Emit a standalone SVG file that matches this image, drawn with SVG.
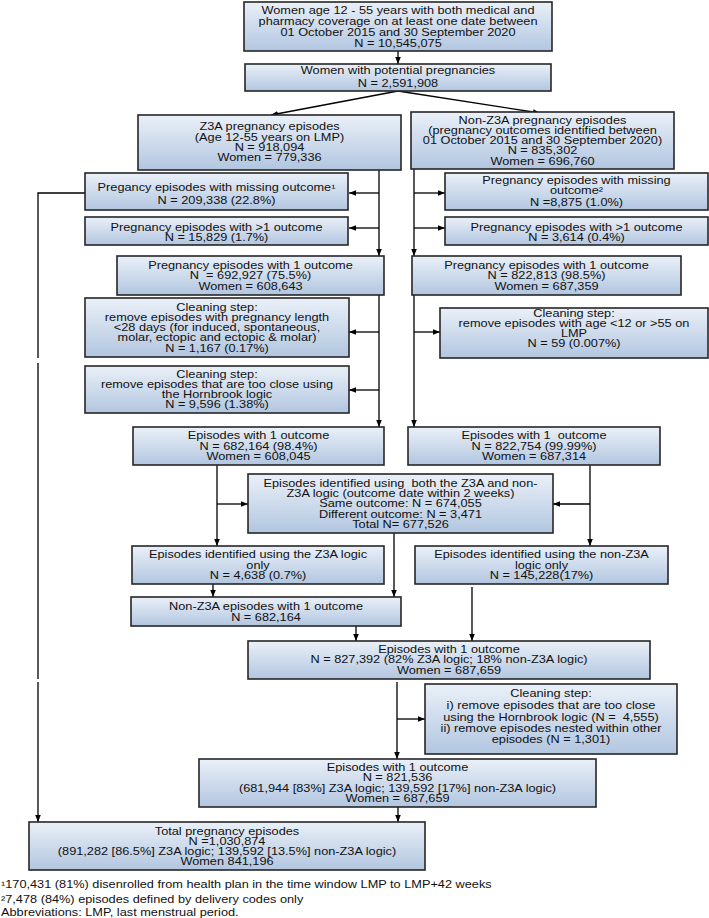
<svg xmlns="http://www.w3.org/2000/svg" width="709" height="918" viewBox="0 0 709 918">
<defs>
<linearGradient id="gb" x1="0" y1="0" x2="0" y2="1">
<stop offset="0" stop-color="#eaf0f8"/>
<stop offset="1" stop-color="#b2c6e0"/>
</linearGradient>
<marker id="ah" viewBox="0 0 10 10" refX="10" refY="5" markerWidth="7" markerHeight="7" markerUnits="userSpaceOnUse" orient="auto">
<path d="M0,1 L10,5 L0,9 Z" fill="#000"/>
</marker>
<style>
.box{fill:url(#gb);stroke:#262626;stroke-width:1.6}
text{font-family:"Liberation Sans",Arial,sans-serif;font-size:10.2px;fill:#111}
.c text{text-anchor:middle}
.ln{fill:none;stroke:#000;stroke-width:1.3}
.ar{fill:none;stroke:#000;stroke-width:1.3;marker-end:url(#ah)}
</style>
</defs>
<rect width="709" height="918" fill="#fff"/>

<g id="connectors">
<line class="ar" x1="398" y1="51" x2="398" y2="64"/>
<line class="ar" x1="398" y1="91" x2="271" y2="115"/>
<line class="ar" x1="398" y1="91" x2="540" y2="113"/>
<line class="ar" x1="379" y1="170" x2="379" y2="256"/>
<line class="ar" x1="414" y1="169" x2="414" y2="256"/>
<line class="ar" x1="379" y1="193" x2="349" y2="193"/>
<line class="ar" x1="379" y1="228" x2="349" y2="228"/>
<line class="ar" x1="414" y1="193" x2="445" y2="193"/>
<line class="ar" x1="414" y1="228" x2="445" y2="228"/>
<path class="ln" d="M85,193 H38 V358 M38,363 V679"/>
<line class="ar" x1="38" y1="682" x2="38" y2="822"/>
<line class="ar" x1="379" y1="295" x2="379" y2="427"/>
<line class="ar" x1="414" y1="295" x2="414" y2="427"/>
<line class="ar" x1="379" y1="332" x2="349" y2="332"/>
<line class="ar" x1="379" y1="390" x2="349" y2="390"/>
<line class="ar" x1="414" y1="332" x2="440" y2="332"/>
<line class="ar" x1="217" y1="465" x2="217" y2="546"/>
<line class="ar" x1="217" y1="504" x2="248" y2="504"/>
<line class="ar" x1="590" y1="465" x2="590" y2="546"/>
<line class="ar" x1="590" y1="504" x2="553" y2="504"/>
<line class="ar" x1="394" y1="533" x2="394" y2="597"/>
<line class="ar" x1="213" y1="584" x2="213" y2="597"/>
<line class="ar" x1="472" y1="587" x2="472" y2="641"/>
<line class="ar" x1="356" y1="626" x2="356" y2="641"/>
<line class="ar" x1="397" y1="682" x2="397" y2="759"/>
<line class="ar" x1="397" y1="719" x2="425" y2="719"/>
<line class="ar" x1="398" y1="807" x2="398" y2="822"/>
</g>

<g id="n_women" class="c">
<rect class="box" x="244" y="2" width="308" height="49"/>
<g transform="translate(398,0) scale(1.25,1)">
<text y="13.6">Women age 12 - 55 years with both medical and</text>
<text y="25.1">pharmacy coverage on at least one date between</text>
<text y="36.1">01 October 2015 and 30 September 2020</text>
<text y="47.1">N = 10,545,075</text>
</g>
</g>

<g id="n_potential" class="c">
<rect class="box" x="245" y="64" width="306" height="27"/>
<g transform="translate(398,0) scale(1.25,1)">
<text y="73.6">Women with potential pregnancies</text>
<text y="86.6">N = 2,591,908</text>
</g>
</g>

<g id="n_z3a" class="c">
<rect class="box" x="138" y="115" width="263" height="55"/>
<g transform="translate(269.5,0) scale(1.25,1)">
<text y="129.6">Z3A pregnancy episodes</text>
<text y="140.6">(Age 12-55 years on LMP)</text>
<text y="150.6">N = 918,094</text>
<text y="160.6">Women = 779,336</text>
</g>
</g>

<g id="n_nonz3a" class="c">
<rect class="box" x="411" y="112" width="263" height="57"/>
<g transform="translate(542.5,0) scale(1.25,1)">
<text y="124.1">Non-Z3A pregnancy episodes</text>
<text y="134.3">(pregnancy outcomes identified between</text>
<text y="144.3">01 October 2015 and 30 September 2020)</text>
<text y="154.3">N = 835,302</text>
<text y="164.6">Women = 696,760</text>
</g>
</g>

<g id="n_missing1" class="c">
<rect class="box" x="85" y="173" width="263" height="37"/>
<g transform="translate(216.5,0) scale(1.25,1)">
<text y="190.6">Pregancy episodes with missing outcome¹</text>
<text y="203.6">N = 209,338 (22.8%)</text>
</g>
</g>

<g id="n_multi1" class="c">
<rect class="box" x="85" y="217" width="263" height="28"/>
<g transform="translate(216.5,0) scale(1.25,1)">
<text y="230.6">Pregnancy episodes with &gt;1 outcome</text>
<text y="241.1">N = 15,829 (1.7%)</text>
</g>
</g>

<g id="n_missing2" class="c">
<rect class="box" x="445" y="173" width="263" height="37"/>
<g transform="translate(576.5,0) scale(1.25,1)">
<text y="183.6">Pregnancy episodes with missing</text>
<text y="193.6">outcome²</text>
<text y="205.6">N =8,875 (1.0%)</text>
</g>
</g>

<g id="n_multi2" class="c">
<rect class="box" x="445" y="217" width="263" height="28"/>
<g transform="translate(576.5,0) scale(1.25,1)">
<text y="230.6">Pregnancy episodes with &gt;1 outcome</text>
<text y="241.1">N = 3,614 (0.4%)</text>
</g>
</g>

<g id="n_one1" class="c">
<rect class="box" x="117" y="256" width="267" height="39"/>
<g transform="translate(250.5,0) scale(1.25,1)">
<text y="268.6">Pregnancy episodes with 1 outcome</text>
<text y="279.1" xml:space="preserve">N  = 692,927 (75.5%)</text>
<text y="289.6">Women = 608,643</text>
</g>
</g>

<g id="n_one2" class="c">
<rect class="box" x="412" y="256" width="269" height="39"/>
<g transform="translate(546.5,0) scale(1.25,1)">
<text y="268.6">Pregnancy episodes with 1 outcome</text>
<text y="279.1">N = 822,813 (98.5%)</text>
<text y="289.6">Women = 687,359</text>
</g>
</g>

<g id="n_clean1" class="c">
<rect class="box" x="85" y="298" width="264" height="59"/>
<g transform="translate(217,0) scale(1.25,1)">
<text y="310.6">Cleaning step:</text>
<text y="320.6">remove episodes with pregnancy length</text>
<text y="330.6">&lt;28 days (for induced, spontaneous,</text>
<text y="340.6">molar, ectopic and ectopic &amp; molar)</text>
<text y="351.6">N = 1,167 (0.17%)</text>
</g>
</g>

<g id="n_clean2" class="c">
<rect class="box" x="440" y="308" width="268" height="50"/>
<g transform="translate(574,0) scale(1.25,1)">
<text y="316.6">Cleaning step:</text>
<text y="326.6">remove episodes with age &lt;12 or &gt;55 on</text>
<text y="336.6">LMP</text>
<text y="346.6">N = 59 (0.007%)</text>
</g>
</g>

<g id="n_hornbrook" class="c">
<rect class="box" x="85" y="366" width="264" height="47"/>
<g transform="translate(217,0) scale(1.25,1)">
<text y="377.6">Cleaning step:</text>
<text y="387.6">remove episodes that are too close using</text>
<text y="397.6">the Hornbrook logic</text>
<text y="407.6">N = 9,596 (1.38%)</text>
</g>
</g>

<g id="n_ep1" class="c">
<rect class="box" x="133" y="427" width="251" height="38"/>
<g transform="translate(258.5,0) scale(1.25,1)">
<text y="438.6">Episodes with 1 outcome</text>
<text y="449.6">N = 682,164 (98.4%)</text>
<text y="459.6">Women = 608,045</text>
</g>
</g>

<g id="n_ep2" class="c">
<rect class="box" x="408" y="427" width="252" height="38"/>
<g transform="translate(534,0) scale(1.25,1)">
<text y="438.6" xml:space="preserve">Episodes with 1  outcome</text>
<text y="449.6">N = 822,754 (99.99%)</text>
<text y="459.6">Women = 687,314</text>
</g>
</g>

<g id="n_both" class="c">
<rect class="box" x="248" y="474" width="305" height="59"/>
<g transform="translate(400.5,0) scale(1.25,1)">
<text y="486.6" xml:space="preserve">Episodes identified using  both the Z3A and non-</text>
<text y="496.6">Z3A logic (outcome date within 2 weeks)</text>
<text y="506.6">Same outcome: N = 674,055</text>
<text y="517.6">Different outcome: N = 3,471</text>
<text y="527.6">Total N= 677,526</text>
</g>
</g>

<g id="n_z3aonly" class="c">
<rect class="box" x="132" y="546" width="252" height="38"/>
<g transform="translate(258,0) scale(1.25,1)">
<text y="557.6">Episodes identified using the Z3A logic</text>
<text y="568.6">only</text>
<text y="578.6">N = 4,638 (0.7%)</text>
</g>
</g>

<g id="n_nonz3aonly" class="c">
<rect class="box" x="415" y="546" width="253" height="38"/>
<g transform="translate(541.5,0) scale(1.25,1)">
<text y="557.6">Episodes identified using the non-Z3A</text>
<text y="568.6">logic only</text>
<text y="578.6">N = 145,228(17%)</text>
</g>
</g>

<g id="n_nonz3aep" class="c">
<rect class="box" x="131" y="597" width="270" height="29"/>
<g transform="translate(266,0) scale(1.25,1)">
<text y="609.6">Non-Z3A episodes with 1 outcome</text>
<text y="620.6">N = 682,164</text>
</g>
</g>

<g id="n_merged" class="c">
<rect class="box" x="248" y="641" width="402" height="38"/>
<g transform="translate(449,0) scale(1.25,1)">
<text y="652.6">Episodes with 1 outcome</text>
<text y="662.6">N = 827,392 (82% Z3A logic; 18% non-Z3A logic)</text>
<text y="673.6">Women = 687,659</text>
</g>
</g>

<g id="n_clean3" class="c">
<rect class="box" x="425" y="684" width="252" height="70"/>
<g transform="translate(551,0) scale(1.25,1)">
<text y="696.6">Cleaning step:</text>
<text y="708.6">i) remove episodes that are too close</text>
<text y="720.6" xml:space="preserve">using the Hornbrook logic (N =  4,555)</text>
<text y="731.6">ii) remove episodes nested within other</text>
<text y="742.6">episodes (N = 1,301)</text>
</g>
</g>

<g id="n_final" class="c">
<rect class="box" x="199" y="759" width="397" height="48"/>
<g transform="translate(397.5,0) scale(1.25,1)">
<text y="770.6">Episodes with 1 outcome</text>
<text y="780.6">N = 821,536</text>
<text y="791.6">(681,944 [83%] Z3A logic; 139,592 [17%] non-Z3A logic)</text>
<text y="801.6">Women = 687,659</text>
</g>
</g>

<g id="n_total" class="c">
<rect class="box" x="29" y="822" width="396" height="48"/>
<g transform="translate(227,0) scale(1.25,1)">
<text y="834.6">Total pregnancy episodes</text>
<text y="844.6">N =1,030,874</text>
<text y="854.6">(891,282 [86.5%] Z3A logic; 139,592 [13.5%] non-Z3A logic)</text>
<text y="864.6">Women 841,196</text>
</g>
</g>

<g id="footnotes" transform="translate(1,0) scale(1.25,1)">
<text y="887.6">¹170,431 (81%) disenrolled from health plan in the time window LMP to LMP+42 weeks</text>
<text y="902.6">²7,478 (84%) episodes defined by delivery codes only</text>
<text y="915.6">Abbreviations: LMP, last menstrual period.</text>
</g>
</svg>
